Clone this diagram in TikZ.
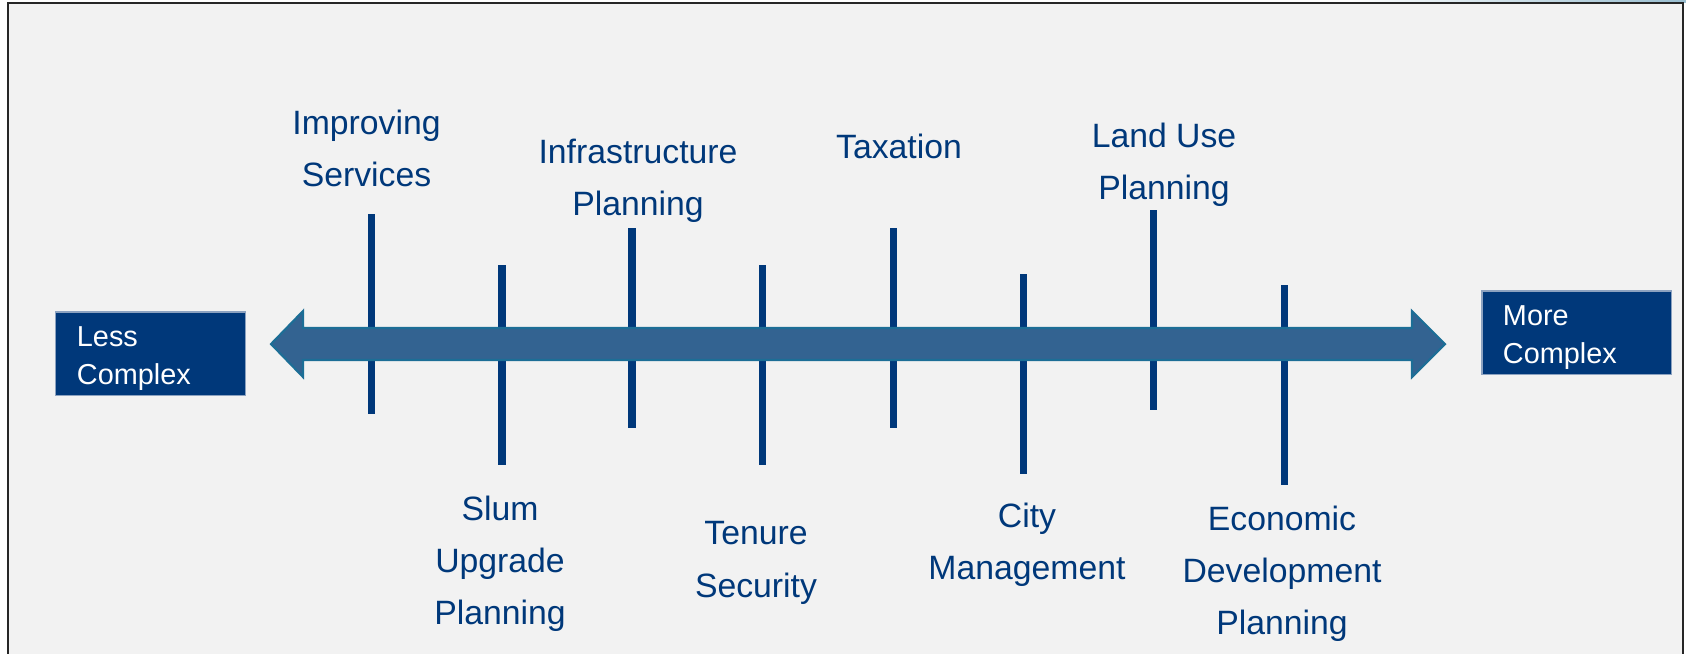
\documentclass[tikz,border=0pt]{standalone}
\usepackage{fontspec}
\setmainfont{Liberation Sans}
\usetikzlibrary{positioning}
\definecolor{navyblue}{RGB}{0,56,122}
\definecolor{arrowfill}{RGB}{51,99,145}
\definecolor{arrowedge}{RGB}{28,110,150}
\definecolor{panelgray}{RGB}{242,242,242}
\definecolor{boxedge}{RGB}{140,162,192}
\newcommand\itemfont{\fontsize{9.6pt}{14.8pt}\selectfont}
\newcommand\boxfont{\fontsize{8.2pt}{10.8pt}\selectfont}
\tikzset{
    tickline/.style={draw=navyblue, line width=2pt},
    itemtext/.style={anchor=north, inner sep=0pt, align=center, text=navyblue, font=\itemfont},
    endbox/.style={draw=boxedge, line width=0.3pt, fill=navyblue, text=white, font=\boxfont,
        align=left, text width=1.47cm, inner xsep=0.21cm, inner ysep=0pt,
        minimum width=1.89cm, minimum height=0.83cm,
        execute at begin node={\rule{0pt}{0.29cm}}},
    scalearrow/.style={fill=arrowfill, draw=arrowedge, line width=0.6pt, line join=miter}
}

\begin{document}
\begin{tikzpicture}[x=0.01cm, y=-0.01cm]
    \useasboundingbox (0,0) rectangle (1686,653);
    % panel
    \shade[left color=white, right color=arrowedge!45] (1350,0) rectangle (1686,2.5);
    \filldraw[fill=panelgray, draw=black!85, line width=0.6pt] (8,3) rectangle (1683,670);
    % ticks
    \foreach \i/\x/\y in {1/371.5/214, 2/502/265, 3/632/228, 4/762/265,
                          5/893/228, 6/1023/274, 7/1153.5/210, 8/1284/285}
    {
        \coordinate (t\i) at (\x,\y);
        \coordinate (b\i) at (\x,\y+200);
        \draw[tickline] (t\i) -- (b\i);
    }
    % complexity scale
    \draw[scalearrow] (271,344) -- (303,311) -- (303,328) -- (1412,328) -- (1412,311)
        -- (1445,344) -- (1412,377) -- (1412,360) -- (303,360) -- (303,377) -- cycle;
    \node[endbox] (less) at (150.5,353.5) {Less\\Complex};
    \node[endbox] (more) at (1576.5,332.5) {More\\Complex};
    % items above
    \node[itemtext] (improving) at (366.5,109) {Improving\\Services};
    \node[itemtext] (infra) at (638,138) {Infrastructure\\Planning};
    \node[itemtext] (taxation) at (899,133) {Taxation};
    \node[itemtext] (landuse) at (1164,122) {Land Use\\Planning};
    % items below
    \node[itemtext] (slum) at (500,495) {Slum\\Upgrade\\Planning};
    \node[itemtext] (tenure) at (756,521) {Tenure\\Security};
    \node[itemtext] (city) at (1027,502) {City\\Management};
    \node[itemtext] (economic) at (1282,505) {Economic\\Development\\Planning};
\end{tikzpicture}
\end{document}
